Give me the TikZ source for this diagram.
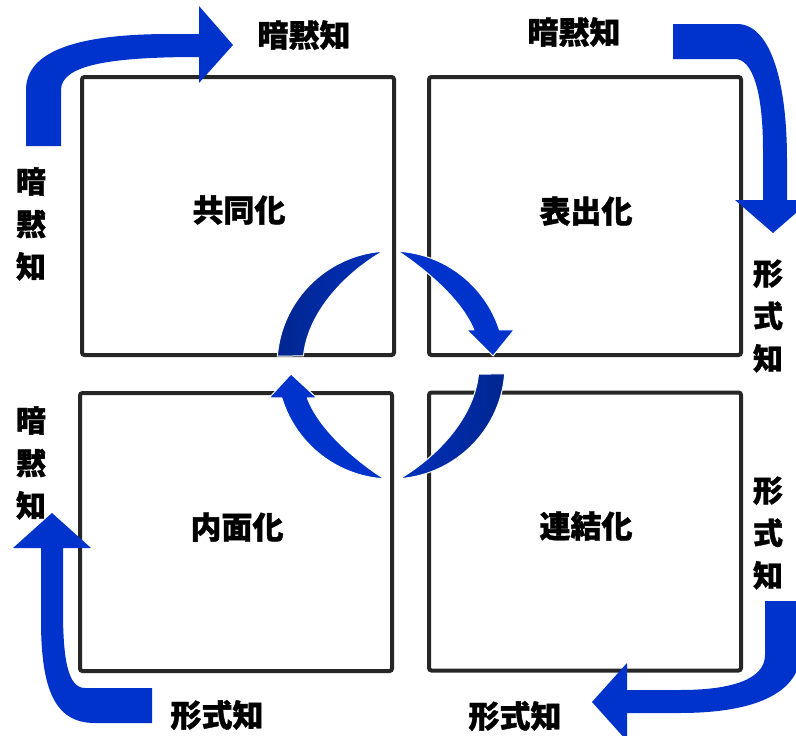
\documentclass[tikz,border=0pt]{standalone}
\usepackage{fontspec}
\newfontfamily\jp{Noto Sans CJK JP}[FakeBold=1.2]
\definecolor{arrblue}{HTML}{0033CC}
\definecolor{arrdark}{HTML}{00268F}
\definecolor{arrmid}{HTML}{0030BC}
\definecolor{boxline}{HTML}{262626}
\begin{document}
\begin{tikzpicture}[x=1pt,y=-1pt,
  declare function={taper(\t)=1-(1-\t)*(1-\t)*(1-\t);},
  box/.style={draw=boxline, line width=4pt, rounded corners=2.5pt, minimum width=312pt, minimum height=278pt, inner sep=0pt},
  lab/.style={font=\jp\bfseries\fontsize{31}{31}\selectfont, text=black, inner sep=0pt},
  vlab/.style={text=black, inner sep=0pt, align=center, font=\jp\bfseries\fontsize{30}{42.5}\selectfont},
  bigarrow/.style={fill=arrblue},
  circarrow/.style={fill=arrblue, draw=white, line width=1pt, line join=round},
  crescentL/.style={left color=arrdark, right color=arrmid, draw=white, line width=1pt, line join=round},
  crescentR/.style={right color=arrdark, left color=arrmid, draw=white, line width=1pt, line join=round}]
\useasboundingbox (0,0) rectangle (796,736);
\clip (0,0) rectangle (796,736);

% quadrant boxes
\node[box] (soc) at (238,216) {};
\node[box] (ext) at (585,216) {};
\node[box] (int) at (236,532) {};
\node[box] (com) at (585,531.5) {};

% quadrant labels
\node[lab] (socL) at (239,210) {共同化};
\node[lab] (extL) at (586,211) {表出化};
\node[lab] (intL) at (237,527) {内面化};
\node[lab] (comL) at (586,526) {連結化};

% side labels
\node[lab] (tk1) at (304,35) {暗黙知};
\node[lab] (tk2) at (574,32) {暗黙知};
\node[vlab] (tk3) at (31,224) {暗\\黙\\知};
\node[vlab] (ek1) at (768,316) {形\\式\\知};
\node[vlab] (tk4) at (31,463) {暗\\黙\\知};
\node[vlab] (ek2) at (768,533) {形\\式\\知};
\node[lab] (ek3) at (217,715) {形式知};
\node[lab] (ek4) at (515,716) {形式知};

% big bent arrows
\fill[bigarrow] (26,146) -- (26,90) .. controls (26,50) and (80,34) .. (170,34) -- (199,34) -- (199,6) -- (233,45) -- (199,83) -- (199,57) .. controls (110,57) and (61,65) .. (61,90) -- (61,146) -- cycle;
\fill[bigarrow] (673,24) -- (737,24) .. controls (770,24) and (787,80) .. (787,160) -- (787,200) -- (811,200) -- (773,233) -- (735,200) -- (763,200) -- (763,150) .. controls (763,90) and (752,59) .. (735,59) -- (673,59) -- cycle;
\fill[bigarrow] (765,601) -- (801,601) -- (801,650) .. controls (801,700) and (740,713) .. (680,713) -- (627,713) -- (627,741) -- (592,702) -- (627,663) -- (627,690) -- (680,690) .. controls (730,690) and (765,680) .. (765,655) -- cycle;
\fill[bigarrow] (152,688) -- (152,723) -- (95,723) .. controls (55,723) and (41,690) .. (41,620) -- (41,548) -- (13,548) -- (52,513) -- (91,548) -- (63,548) -- (63,610) .. controls (63,660) and (68,688) .. (85,688) -- cycle;

% central cycle (angles measured clockwise on screen, y pointing down)
\path[crescentL] plot[domain=184.5:266, samples=50] ({391+114*cos(\x)},{365+114*sin(\x)})
  -- plot[domain=266:185.9, samples=50] ({391+(114-26*taper((266-\x)/80.1))*cos(\x)},{365+(114-26*taper((266-\x)/80.1))*sin(\x)}) -- cycle;
\path[circarrow] plot[domain=273.5:342, samples=50] ({391+114*cos(\x)},{365+114*sin(\x)}) -- (514,330) -- (493,356) -- (467,330)
  -- plot[domain=337.1:273.5, samples=50] ({391+(114-24*taper((\x-273.5)/63.6))*cos(\x)},{365+(114-24*taper((\x-273.5)/63.6))*sin(\x)}) -- cycle;
\path[crescentR] plot[domain=4.5:85.5, samples=50] ({391+114*cos(\x)},{365+114*sin(\x)})
  -- plot[domain=85.5:5.9, samples=50] ({391+(114-26*taper((85.5-\x)/79.6))*cos(\x)},{365+(114-26*taper((85.5-\x)/79.6))*sin(\x)}) -- cycle;
\path[circarrow] plot[domain=93.5:163.2, samples=50] ({391+114*cos(\x)},{365+114*sin(\x)}) -- (269,398) -- (291,374) -- (317,398)
  -- plot[domain=158.5:93.5, samples=50] ({391+(114-24*taper((\x-93.5)/65))*cos(\x)},{365+(114-24*taper((\x-93.5)/65))*sin(\x)}) -- cycle;
\end{tikzpicture}
\end{document}
